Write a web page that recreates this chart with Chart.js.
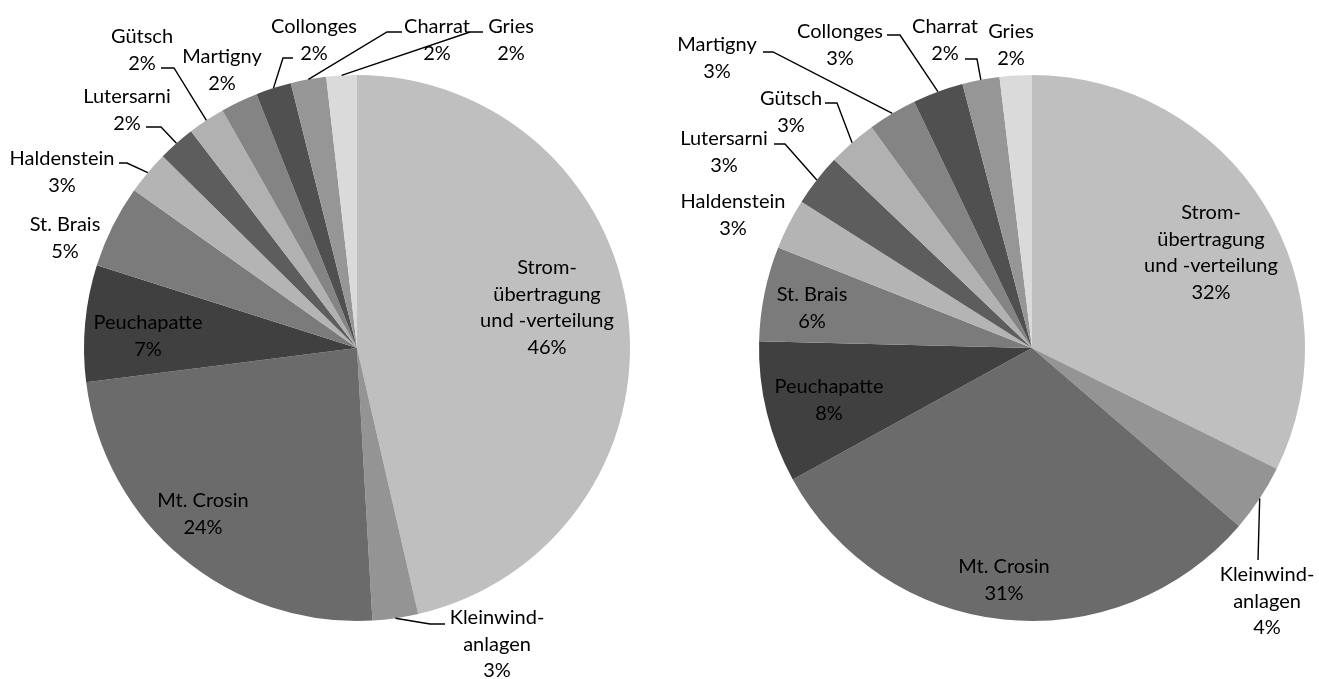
<!DOCTYPE html>
<html>
<head>
<meta charset="utf-8">
<script src="https://cdn.jsdelivr.net/npm/chart.js@4.4.1/dist/chart.umd.min.js"></script>
<style>
  html, body { margin: 0; padding: 0; background: #fff; }
  #wrap { position: relative; width: 1319px; height: 679px; overflow: hidden; }
  canvas { position: absolute; top: 0; }
</style>
</head>
<body>
<div id="wrap">
  <canvas id="pieLeft" width="665" height="679" style="left:0"></canvas>
  <canvas id="pieRight" width="654" height="679" style="left:665px"></canvas>
</div>
<script>
// Categories (clockwise from 12 o'clock)
const categories = [
  'Strom-\nübertragung\nund -verteilung', 'Kleinwind-\nanlagen', 'Mt. Crosin', 'Peuchapatte',
  'St. Brais', 'Haldenstein', 'Lutersarni', 'Gütsch', 'Martigny', 'Collonges', 'Charrat', 'Gries'
];
// Shares in percent
const valuesLeft = [46.4, 2.7, 23.9, 6.9, 4.9, 2.6, 2.2, 2.2, 2.2, 2.1, 2.1, 1.8];
const valuesRight = [32.3, 4.0, 30.7, 8.4, 5.6, 3.0, 3.1, 2.9, 2.9, 3.0, 2.2, 1.9];

const sliceColors = ['#bfbfbf', '#949494', '#6b6b6b', '#404040', '#7b7b7b', '#b4b4b4',
                     '#5d5d5d', '#b1b1b1', '#848484', '#505050', '#969696', '#dadada'];

// Label layout: first text line centre, relative to the pie centre
const labelPosLeft = [[190,-80],[140,270],[-154,153],[-209,-25],[-292,-123],[-295,-189],
                      [-230,-251],[-215,-311],[-135,-291],[-43,-321],[80,-321],[154,-321]];
const labelPosRight = [[179,-135],[235,227],[-28,219],[-203,39],[-220,-53],[-299,-146],
                       [-308,-209],[-241,-249],[-315,-303],[-192,-316],[-87,-321],[-21,-316]];
// Leader lines: [startX, startY, elbowX] relative to centre, then to the slice edge
const leaderLeft = [null,[88,276,73],null,null,null,[-238,-185,-230],[-211,-221,-196],
                    [-196,-280,-183],null,[-64,-290,-74],[45,-316,30],[126,-316,113]];
const leaderRight = [null,[226,212,226],null,null,null,null,[-258,-204,-247],
                     [-207,-245,-195],[-269,-296,-259],[-145,-313,-132],[-67,-289,-55],null];

const FONT = '20px Lato, "Open Sans", sans-serif';
const LINE_H = 26.5;

const labelPlugin = {
  id: 'pieLabels',
  afterDatasetsDraw(chart, args, opts) {
    const ctx = chart.ctx;
    const meta = chart.getDatasetMeta(0);
    const data = chart.data.datasets[0].data;
    const total = data.reduce((a, b) => a + b, 0);
    ctx.save();
    meta.data.forEach((arc, i) => {
      const cx = arc.x, cy = arc.y;
      const leader = opts.leaders[i];
      if (leader) {
        const mid = (arc.startAngle + arc.endAngle) / 2;
        const ex = cx + Math.cos(mid) * arc.outerRadius;
        const ey = cy + Math.sin(mid) * arc.outerRadius;
        ctx.beginPath();
        ctx.strokeStyle = '#000';
        ctx.lineWidth = 1.4;
        ctx.moveTo(cx + leader[0], cy + leader[1]);
        ctx.lineTo(cx + leader[2], cy + leader[1]);
        ctx.lineTo(ex, ey);
        ctx.stroke();
      }
      const lines = chart.data.labels[i].split('\n');
      lines.push(Math.round(data[i] / total * 100) + '%');
      const pos = opts.positions[i];
      ctx.font = FONT;
      ctx.fillStyle = '#000';
      ctx.textAlign = 'center';
      ctx.textBaseline = 'middle';
      lines.forEach((t, k) => ctx.fillText(t, cx + pos[0], cy + pos[1] + k * LINE_H));
    });
    ctx.restore();
  }
};

function makePie(id, values, positions, leaders, padding) {
  return new Chart(document.getElementById(id), {
    type: 'pie',
    data: {
      labels: categories,
      datasets: [{
        data: values,
        backgroundColor: sliceColors,
        borderWidth: 0,
        hoverOffset: 0
      }]
    },
    options: {
      responsive: false,
      animation: false,
      layout: { padding: padding },
      plugins: {
        legend: { display: false },
        tooltip: { enabled: false },
        pieLabels: { positions: positions, leaders: leaders }
      }
    },
    plugins: [labelPlugin]
  });
}

makePie('pieLeft', valuesLeft, labelPosLeft, leaderLeft, { left: 84, right: 35, top: 75, bottom: 58 });
makePie('pieRight', valuesRight, labelPosRight, leaderRight, { left: 94, right: 14, top: 75, bottom: 58 });
</script>
</body>
</html>
